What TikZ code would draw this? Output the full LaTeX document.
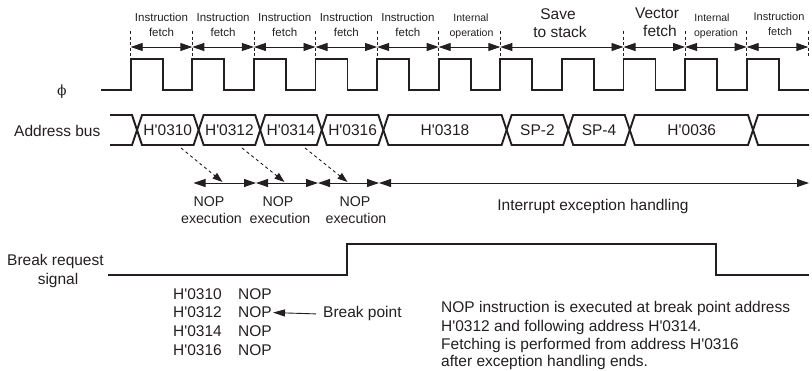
\documentclass[tikz,border=0pt]{standalone}
\usepackage{fontspec}
\setmainfont{Liberation Sans}
\newfontfamily\phifont{DejaVu Serif}
\usetikzlibrary{arrows.meta}
\definecolor{ink}{HTML}{231F20}
\newcommand\fs[2]{\fontsize{#1}{#2}\selectfont}
\newcommand\hq{H\textquotesingle}
\begin{document}
\begin{tikzpicture}[x=1pt,y=-1pt,
  sig/.style={line width=1.9pt, draw=ink, line join=miter},
  dimarr/.style={line width=0.9pt, draw=ink, {Triangle[length=12pt,width=8pt]}-{Triangle[length=12pt,width=8pt]}},
  onearr/.style={line width=0.9pt, draw=ink, -{Triangle[length=12pt,width=7pt]}},
  tickline/.style={line width=0.8pt, draw=ink, dash pattern=on 3pt off 2.5pt},
  dotarr/.style={line width=0.9pt, draw=ink, dash pattern=on 3pt off 3pt, -{Triangle[length=10pt,width=7pt]}},
  lbl/.style={text=ink, inner sep=0pt, anchor=base, font=\fs{15.5}{18}},
  small/.style={lbl, font=\fs{11.5}{12}},
  tiny/.style={lbl, font=\fs{10.5}{12}},
  nopl/.style={lbl, font=\fs{14.2}{16}}]
\useasboundingbox (0,0) rectangle (812,370);

% ---- phase markers
\foreach \k in {0,...,11} \coordinate (t\k) at ({130.7+61.6*\k},47);
\foreach \k in {0,...,6,8,9,10,11}
  \draw[tickline] ([yshift=16pt]t\k) -- ([yshift=-10pt]t\k);
\foreach \a/\b in {0/1,1/2,2/3,3/4,4/5,5/6,6/8,8/9,9/10,10/11}
  \draw[dimarr] (t\a) -- (t\b);

% ---- phase labels
\foreach \k in {0,...,4} {
  \node[small] (ia\k) at ({161.5+61.6*\k},21.5) {Instruction};
  \node[small] (ib\k) at ({161.5+61.6*\k},36.8) {fetch};
}
\node[tiny] (ioa) at (471,21.5) {Internal};
\node[tiny] (iob) at (471.5,36.5) {operation};
\node[lbl] (sva) at (558,19.3) {Save};
\node[lbl] (svb) at (560,37.3) {to stack};
\node[lbl] (vfa) at (657,18.3) {Vector};
\node[lbl] (vfb) at (660,36.7) {fetch};
\node[tiny] (io2a) at (712,21.5) {Internal};
\node[tiny] (io2b) at (716,36.5) {operation};
\node[lbl,font=\fs{11}{12}] (lia) at (779,20.7) {Instruction};
\node[lbl,font=\fs{11}{12}] (lib) at (780,35.5) {fetch};

% ---- clock
\node[text=ink, inner sep=0pt] (phi) at (62,92) {\phifont\fs{14}{14}ϕ};
\draw[sig] (101,90)
  \foreach \k in {0,...,10} {
    -- ({130.7+61.6*\k},90) -- ({130.7+61.6*\k},59)
    -- ({162.7+61.6*\k},59) -- ({162.7+61.6*\k},90) }
  -- (809.3,90);

% ---- address bus
\node[lbl, anchor=base west] (abus) at (14,136) {Address bus};
\foreach \k in {0,1,2,3,4,6,7,8,10} \coordinate (c\k) at ({137+61.6*\k},130);
\draw[sig] (110,115) -- ([xshift=-5pt,yshift=15pt]c0) -- (c0)
  -- ([xshift=-5pt,yshift=-15pt]c0) -- (110,145);
\foreach \a/\b in {0/1,1/2,2/3,3/4,4/6,6/7,7/8,8/10}
  \draw[sig] (c\a) -- ([xshift=5pt,yshift=15pt]c\a) -- ([xshift=-5pt,yshift=15pt]c\b)
    -- (c\b) -- ([xshift=-5pt,yshift=-15pt]c\b) -- ([xshift=5pt,yshift=-15pt]c\a) -- cycle;
\draw[sig] (809,115) -- ([xshift=5pt,yshift=15pt]c10) -- (c10)
  -- ([xshift=5pt,yshift=-15pt]c10) -- (809,145);
\node[lbl] (b0) at (167.8,135.5) {\hq0310};
\node[lbl] (b1) at (229.4,135.5) {\hq0312};
\node[lbl] (b2) at (291.0,135.5) {\hq0314};
\node[lbl] (b3) at (352.6,135.5) {\hq0316};
\node[lbl] (b4) at (445.0,135.5) {\hq0318};
\node[lbl] (b5) at (537.4,135.5) {SP-2};
\node[lbl] (b6) at (599.0,135.5) {SP-4};
\node[lbl] (b7) at (691.8,135.5) {\hq0036};

% ---- execution row
\coordinate (n0) at (193.5,183);
\coordinate (n1) at (256,183);
\coordinate (n2) at (318,183);
\coordinate (n3) at (379,183);
\coordinate (n4) at (809,183);
\foreach \a/\b in {0/1,1/2,2/3,3/4} \draw[dimarr] (n\a) -- (n\b);
\coordinate (p0) at (181,148); \coordinate (q0) at (222.5,182);
\coordinate (p1) at (242,148); \coordinate (q1) at (284.5,182);
\coordinate (p2) at (305,148); \coordinate (q2) at (347.5,182);
\foreach \k in {0,1,2} \draw[dotarr] (p\k) -- (q\k);
\node[nopl] (x0a) at (209,206.7) {NOP};
\node[nopl] (x0b) at (211.5,223.3) {execution};
\node[nopl] (x1a) at (278,206.7) {NOP};
\node[nopl] (x1b) at (280,223.3) {execution};
\node[nopl] (x2a) at (355,206.7) {NOP};
\node[nopl] (x2b) at (356,223.3) {execution};
\node[lbl] (ieh) at (593,210.5) {Interrupt exception handling};

% ---- break request signal
\node[lbl, anchor=base west] (bra) at (7,265) {Break request};
\node[lbl] (brb) at (58,284) {signal};
\draw[sig] (108,275) -- (347,275) -- (347,244) -- (716,244) -- (716,275) -- (809,275);

% ---- code listing
\node[lbl, anchor=base west] (a0) at (173,299.3) {\hq0310};
\node[lbl, anchor=base west] (a1) at (173,317.9) {\hq0312};
\node[lbl, anchor=base west] (a2) at (173,336.6) {\hq0314};
\node[lbl, anchor=base west] (a3) at (173,355.4) {\hq0316};
\node[lbl, anchor=base west] (o0) at (238,299.3) {NOP};
\node[lbl, anchor=base west] (o1) at (238,317.9) {NOP};
\node[lbl, anchor=base west] (o2) at (238,336.6) {NOP};
\node[lbl, anchor=base west] (o3) at (238,355.4) {NOP};
\node[lbl, anchor=base west] (bp) at (323,317.9) {Break point};
\draw[onearr] ([xshift=-7pt]bp.west) -- ([xshift=1pt]o1.east);

% ---- note
\node[lbl, anchor=base west] (m0) at (441,312.5) {NOP instruction is executed at break point address};
\node[lbl, anchor=base west] (m1) at (441,331) {\hq0312 and following address \hq0314.};
\node[lbl, anchor=base west] (m2) at (441,349.5) {Fetching is performed from address \hq0316};
\node[lbl, anchor=base west] (m3) at (441,366.5) {after exception handling ends.};
\end{tikzpicture}
\end{document}
